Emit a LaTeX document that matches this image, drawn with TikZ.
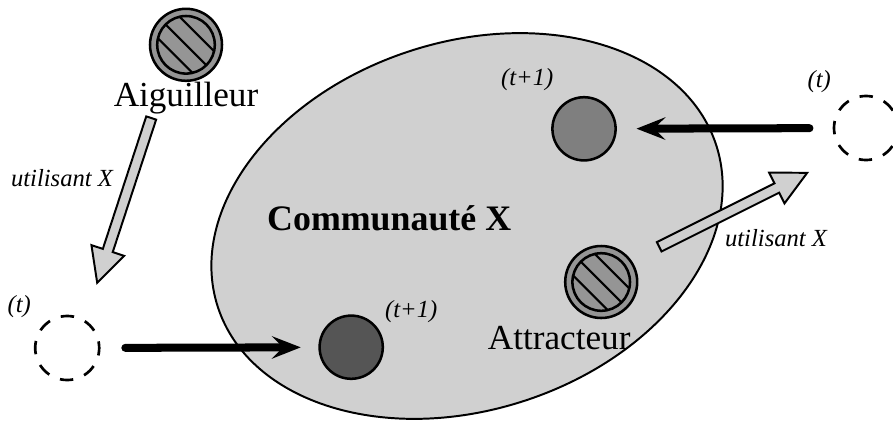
\documentclass[tikz,border=0pt]{standalone}
\usepackage{fontspec}
\setmainfont{Liberation Serif}
\usepackage{xcolor}
\usepackage{tikz}
\usetikzlibrary{arrows.meta}
\usetikzlibrary{calc}
\usetikzlibrary{positioning}
\definecolor{fondcomm}{HTML}{D0D0D0}
\definecolor{grisagent}{HTML}{959595}
\definecolor{grisfonce}{HTML}{555555}
\definecolor{grismoyen}{HTML}{7F7F7F}
\def\largfleche{0.13cm}
\def\largtete{0.43cm}
\def\longtete{0.85cm}
\def\rayonint{0.72}
% grosse fleche creuse de #1 vers #2
\newcommand{\flechecreuse}[2]{%
  \coordinate (base) at ($(#2)!\longtete!(#1)$);
  \draw[creuse] ($(#1)!\largfleche!90:(#2)$) -- ($(base)!\largfleche!90:(#2)$)
    -- ($(base)!\largtete!90:(#2)$) -- (#2) -- ($(base)!\largtete!-90:(#2)$)
    -- ($(base)!\largfleche!-90:(#2)$) -- ($(#1)!\largfleche!-90:(#2)$) -- cycle;
}

\begin{document}
\begin{tikzpicture}[
    agent/.style={circle, draw, line width=1.8pt, fill=grisagent, minimum size=1.8cm, inner sep=0pt},
    anneau/.style={line width=1.8pt},
    hachure/.style={line width=1.5pt},
    noeud/.style={circle, draw, line width=1.8pt, minimum size=1.58cm, inner sep=0pt},
    fantome/.style={circle, draw, line width=1.9pt, minimum size=1.6cm, inner sep=0pt,
      dash pattern=on 9.5pt off 8.3pt, dash phase=4.75pt},
    creuse/.style={draw, line width=1.4pt, fill=fondcomm, line join=miter},
    saut/.style={line width=5.7pt, line cap=round, -{Stealth[length=0.72cm, width=0.56cm, inset=0.28cm]}},
    nom/.style={font=\fontsize{25}{29}\selectfont, inner sep=0pt},
    temps/.style={font=\fontsize{17.5}{21}\selectfont\itshape, inner sep=0pt}
  ]
  \useasboundingbox (0,0) rectangle (22.325,10.55);

  % la communaute
  \coordinate (centre) at (11.675,4.9);
  \draw[line width=1.4pt, fill=fondcomm, rotate around={18:(centre)}]
    (centre) ellipse [x radius=6.55cm, y radius=4.6cm];
  \node[font=\fontsize{25.5}{29}\selectfont\bfseries] (comm) at (9.73,5.10) {Communauté X};

  % agents
  \node[agent] (aig) at (4.65,9.43) {};
  \node[agent] (att) at (15.03,3.50) {};
  \foreach \a in {aig,att}{
    \draw[anneau] (\a) circle (\rayonint);
    \begin{scope}
      \clip (\a) circle (\rayonint);
      \foreach \d in {-0.27,0,0.27}
        \draw[hachure] ($(\a)+(\d,\d)+(-1,1)$) -- ($(\a)+(\d,\d)+(1,-1)$);
    \end{scope}
  }
  \node[nom] (aiglab) at (4.65,8.10) {Aiguilleur};
  \node[nom] (attlab) at (13.98,2.10) {Attracteur};

  % positions
  \node[fantome] (tl) at (1.68,1.85) {};
  \node[noeud, fill=grisfonce] (cl) at (8.78,1.87) {};
  \node[fantome] (tr) at (21.65,7.35) {};
  \node[noeud, fill=grismoyen] (cr) at (14.60,7.33) {};

  \node[temps] (tl0) at (0.48,2.88) {(t)};
  \node[temps] (cl1) at (10.28,2.75) {(t+1)};
  \node[temps] (tr0) at (20.48,8.50) {(t)};
  \node[temps] (cr1) at (13.18,8.55) {(t+1)};

  \draw[saut, shorten <=0.62cm, shorten >=0.44cm] (tl) -- (cl);
  \draw[saut, shorten <=0.58cm, shorten >=0.49cm] (tr) -- (cr);

  % influences
  \coordinate (a1) at (3.78,7.60);
  \coordinate (a2) at (2.43,3.48);
  \coordinate (b1) at (16.48,4.38);
  \coordinate (b2) at (20.18,6.23);
  \flechecreuse{a1}{a2}
  \flechecreuse{b1}{b2}
  \node[temps] (ut1) at (1.55,6.10) {utilisant X};
  \node[temps] (ut2) at (19.40,4.60) {utilisant X};
\end{tikzpicture}
\end{document}
